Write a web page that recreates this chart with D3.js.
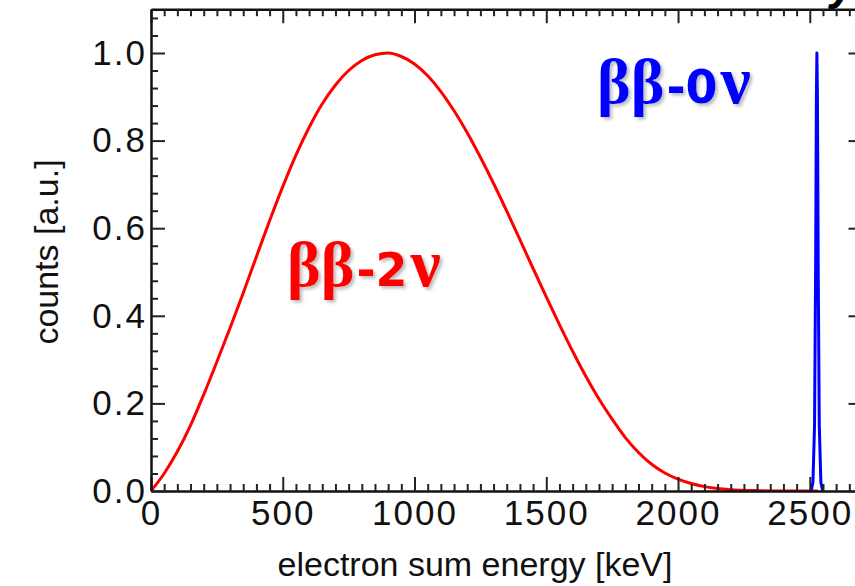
<!DOCTYPE html>
<html>
<head>
<meta charset="utf-8">
<script src="https://cdn.jsdelivr.net/npm/d3@7/dist/d3.min.js"></script>
<style>
  html, body { margin: 0; padding: 0; background: #fff; }
  svg { display: block; }
</style>
</head>
<body>
<svg id="chart" width="855" height="586"></svg>
<script>
// ---- data ----
const energy2nu = [0, 50, 100, 150, 200, 250, 300, 350, 400, 450, 500, 550, 600, 650, 700, 750, 800, 850, 900, 950, 1000, 1050, 1100, 1150, 1200, 1250, 1300, 1350, 1400, 1450, 1500, 1550, 1600, 1650, 1700, 1750, 1800, 1850, 1900, 1950, 2000, 2050, 2100, 2150, 2200, 2300, 2400, 2530];
const counts2nu = [0, 0.040, 0.090, 0.150, 0.220, 0.295, 0.372, 0.452, 0.535, 0.617, 0.695, 0.767, 0.830, 0.884, 0.927, 0.960, 0.983, 0.996, 1.0, 0.992, 0.975, 0.948, 0.912, 0.868, 0.818, 0.762, 0.702, 0.639, 0.574, 0.508, 0.443, 0.380, 0.319, 0.262, 0.210, 0.164, 0.122, 0.088, 0.061, 0.041, 0.027, 0.017, 0.010, 0.0055, 0.003, 0.0008, 0.0001, 0];
const energy0nu = [2505, 2512, 2518, 2522, 2525, 2527, 2529, 2532, 2536, 2542, 2549];
const counts0nu = [0, 0.02, 0.15, 0.5, 0.9, 1.0, 0.9, 0.5, 0.15, 0.02, 0];
const xMajorTicks = [0, 500, 1000, 1500, 2000, 2500];
const yMajorTicks = [0, 0.2, 0.4, 0.6, 0.8, 1.0];
const yTickLabels = ["0.0", "0.2", "0.4", "0.6", "0.8", "1.0"];
const xTitle = "electron sum energy [keV]";
const yTitle = "counts [a.u.]";
const label2nu = ["ββ", "-2", "ν"];
const label0nu = ["ββ", "-0", "ν"];

// ---- layout ----
const svg = d3.select("#chart");
const x = d3.scaleLinear().domain([0, 2700]).range([151, 862.5]);
const y = d3.scaleLinear().domain([0, 1.1]).range([491, 9.2]);

const xMinor = d3.range(0, 2701, 50).filter(v => v % 500 !== 0);
const yMinor = d3.range(0, 1.1001, 0.04).map(v => +v.toFixed(2)).filter(v => Math.abs(v / 0.2 - Math.round(v / 0.2)) > 1e-6);

const defs = svg.append("defs");
defs.append("clipPath").attr("id", "plotclip").append("rect")
  .attr("x", x(0)).attr("y", y(1.1)).attr("width", x(2700) - x(0)).attr("height", y(0) - y(1.1));
const f = defs.append("filter").attr("id", "shadow").attr("x", "-10%").attr("y", "-10%").attr("width", "130%").attr("height", "140%");
f.append("feDropShadow").attr("dx", 2.5).attr("dy", 2.5).attr("stdDeviation", 1.8)
  .attr("flood-color", "#888").attr("flood-opacity", 0.55);

// ---- curves ----
const line = d3.line().x(d => x(d[0])).y(d => y(d[1])).curve(d3.curveMonotoneX);
const plot = svg.append("g").attr("clip-path", "url(#plotclip)");
plot.append("path")
  .datum(energy2nu.map((e, i) => [e, counts2nu[i]]))
  .attr("d", line).attr("fill", "none").attr("stroke", "#ff0000").attr("stroke-width", 3);
plot.append("path")
  .datum(energy0nu.map((e, i) => [e, counts0nu[i]]))
  .attr("d", d3.line().x(d => x(d[0])).y(d => y(d[1])))
  .attr("fill", "none").attr("stroke", "#0000ff").attr("stroke-width", 3).attr("stroke-linejoin", "round");

// ---- axes ----
function styleAxis(g) {
  g.select(".domain").attr("stroke", "#111").attr("stroke-width", 2.5);
  g.selectAll(".tick line").attr("stroke", "#222").attr("stroke-width", 2);
}
const tickFont = "'Liberation Sans', Arial, Helvetica, sans-serif";

// bottom
const gb = svg.append("g").attr("transform", `translate(0,${y(0)})`);
gb.call(d3.axisBottom(x).tickValues(xMinor).tickSize(-7).tickFormat("").tickSizeOuter(0));
styleAxis(gb);
const gb2 = svg.append("g").attr("transform", `translate(0,${y(0)})`);
gb2.call(d3.axisBottom(x).tickValues(xMajorTicks).tickSize(-14).tickSizeOuter(0).tickPadding(9).tickFormat(d3.format("d")));
styleAxis(gb2);
gb2.select(".domain").remove();
gb2.selectAll(".tick text").attr("font-family", tickFont).attr("font-size", 35)
  .attr("letter-spacing", 2).attr("fill", "#111");

// top
const gt = svg.append("g").attr("transform", `translate(0,${y(1.1)})`);
gt.call(d3.axisTop(x).tickValues(xMinor).tickSize(-7).tickFormat("").tickSizeOuter(0));
styleAxis(gt);
const gt2 = svg.append("g").attr("transform", `translate(0,${y(1.1)})`);
gt2.call(d3.axisTop(x).tickValues(xMajorTicks).tickSize(-14).tickFormat("").tickSizeOuter(0));
styleAxis(gt2);
gt2.select(".domain").remove();

// left
const gl = svg.append("g").attr("transform", `translate(${x(0)},0)`);
gl.call(d3.axisLeft(y).tickValues(yMinor).tickSize(-7).tickFormat("").tickSizeOuter(0));
styleAxis(gl);
const gl2 = svg.append("g").attr("transform", `translate(${x(0)},0)`);
gl2.call(d3.axisLeft(y).tickValues(yMajorTicks).tickSize(-14).tickSizeOuter(0).tickPadding(4)
  .tickFormat((d, i) => yTickLabels[i]));
styleAxis(gl2);
gl2.select(".domain").remove();
gl2.selectAll(".tick text").attr("font-family", tickFont).attr("font-size", 35)
  .attr("letter-spacing", 2).attr("fill", "#111");

// right
const gr = svg.append("g").attr("transform", `translate(${x(2700)},0)`);
gr.call(d3.axisRight(y).tickValues(yMinor).tickSize(-7).tickFormat("").tickSizeOuter(0));
styleAxis(gr);
const gr2 = svg.append("g").attr("transform", `translate(${x(2700)},0)`);
gr2.call(d3.axisRight(y).tickValues(yMajorTicks).tickSize(-14).tickFormat("").tickSizeOuter(0));
styleAxis(gr2);
gr2.select(".domain").remove();

// ---- axis titles ----
svg.append("text").attr("x", 475).attr("y", 576).attr("text-anchor", "middle")
  .attr("font-family", tickFont).attr("font-size", 34).attr("fill", "#111").text(xTitle);
svg.append("text").attr("transform", "translate(58,252) rotate(-90)").attr("text-anchor", "middle")
  .attr("font-family", tickFont).attr("font-size", 34).attr("fill", "#111").text(yTitle);

// ---- annotations ----
const partStyles = [
  { family: "'Liberation Serif', serif", size: 64, gap: 2 },
  { family: "'DejaVu Sans', sans-serif", size: 46, gap: 3 },
  { family: "'Liberation Serif', serif", size: 68, gap: 0 }
];
function addLabel(parts, xpos, ybase, color) {
  const g = svg.append("g").attr("filter", "url(#shadow)");
  let cx = xpos;
  parts.forEach((p, i) => {
    const s = partStyles[i];
    const t = g.append("text").attr("x", cx).attr("y", ybase)
      .attr("font-family", s.family).attr("font-size", s.size).attr("font-weight", "bold")
      .attr("fill", color).text(p);
    cx += t.node().getComputedTextLength() + s.gap;
  });
}
addLabel(label2nu, 287, 286, "#ff0000");
addLabel(label0nu, 597, 103, "#0000ff");

// partial glyph cut off at the top-right corner of the source image
svg.append("text").attr("x", 830).attr("y", -1)
  .attr("font-family", tickFont).attr("font-size", 46).attr("font-weight", "bold").attr("font-style", "italic")
  .attr("fill", "#000").text("y");
</script>
</body>
</html>
